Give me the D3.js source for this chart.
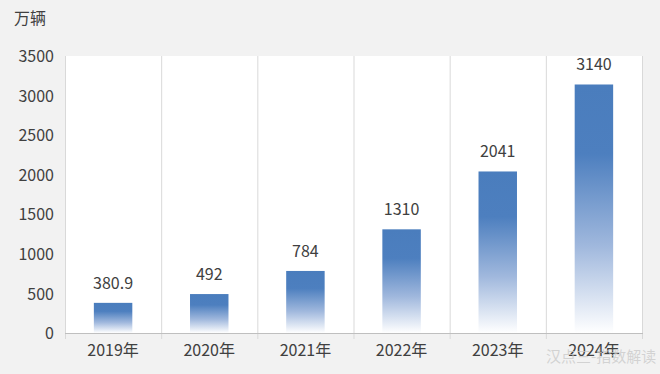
<!DOCTYPE html>
<html><head><meta charset="utf-8">
<script src="https://cdn.jsdelivr.net/npm/d3@7"></script>
<style>
html,body{margin:0;padding:0;background:#f2f2f2;}
svg{display:block;}
text{font-family:"Microsoft YaHei","Noto Sans CJK SC",sans-serif;fill:#404040;}
</style></head>
<body><svg id="c" width="660" height="374"></svg>
<script>
const categories = ["2019年","2020年","2021年","2022年","2023年","2024年"];
const values = [380.9, 492, 784, 1310, 2041, 3140];
const valueLabels = ["380.9","492","784","1310","2041","3140"];
const yTicks = [0,500,1000,1500,2000,2500,3000,3500];
const unitLabel = "万辆";
const watermark = "汉点三-指数解读";

const svg = d3.select("#c");
const W=660,H=374;
const m={left:65,right:18,top:56,bottom:41};
const x0=m.left, x1=W-m.right, y0=H-m.bottom, y1=m.top;

svg.append("rect").attr("width",W).attr("height",H).attr("fill","#f2f2f2");
svg.append("rect").attr("x",x0).attr("y",y1).attr("width",x1-x0).attr("height",y0-y1).attr("fill","#ffffff");

const x=d3.scaleBand().domain(categories).range([x0,x1]).paddingInner(0).paddingOuter(0);
const y=d3.scaleLinear().domain([0,3500]).range([y0,y1]);

const defs=svg.append("defs");
const g=defs.append("linearGradient").attr("id","bg").attr("x1",0).attr("y1",0).attr("x2",0).attr("y2",1);
g.append("stop").attr("offset","0%").attr("stop-color","#4a7dbd");
g.append("stop").attr("offset","28%").attr("stop-color","#4d7fbf");
g.append("stop").attr("offset","65%").attr("stop-color","#a0b8dd");
g.append("stop").attr("offset","100%").attr("stop-color","#ffffff");

// vertical gridlines at category boundaries
const bounds=categories.map(c=>x(c)).concat([x1]);
svg.append("g").selectAll("line").data(bounds).join("line")
  .attr("x1",d=>d+0.5).attr("x2",d=>d+0.5).attr("y1",y1).attr("y2",y0+6)
  .attr("stroke","#d9d9d9").attr("stroke-width",1);

// bottom axis line
svg.append("line").attr("x1",x0).attr("x2",x1+1).attr("y1",y0+0.5).attr("y2",y0+0.5)
  .attr("stroke","#bfbfbf").attr("stroke-width",1);

// bars
const bw=x.bandwidth()*0.4;
svg.append("g").selectAll("rect").data(values).join("rect")
  .attr("x",(d,i)=>x(categories[i])+x.bandwidth()/2-bw/2)
  .attr("y",d=>y(d)).attr("width",bw).attr("height",d=>y0-y(d))
  .attr("fill","url(#bg)");

// value labels
svg.append("g").selectAll("text").data(values).join("text")
  .attr("x",(d,i)=>x(categories[i])+x.bandwidth()/2)
  .attr("y",d=>y(d)-14)
  .attr("text-anchor","middle").attr("font-size",16)
  .text((d,i)=>valueLabels[i]);

// y axis labels
const ya=d3.axisLeft(y).tickValues(yTicks).tickFormat(d3.format("d")).tickSize(0).tickPadding(11);
const yg=svg.append("g").attr("transform",`translate(${x0},0)`).call(ya);
yg.select(".domain").remove();
yg.selectAll("text").attr("font-size",16).attr("fill","#404040")
  .attr("font-family","'Microsoft YaHei','Noto Sans CJK SC',sans-serif").attr("dy","0.35em");

// x axis labels
const xa=d3.axisBottom(x).tickSize(0).tickPadding(12);
const xg=svg.append("g").attr("transform",`translate(0,${y0})`).call(xa);
xg.select(".domain").remove();
xg.selectAll("text").attr("font-size",16).attr("fill","#404040")
  .attr("font-family","'Microsoft YaHei','Noto Sans CJK SC',sans-serif");

// unit label
svg.append("text").attr("x",14).attr("y",24).attr("font-size",16).text(unitLabel);

// watermark
svg.append("text").attr("x",546).attr("y",362).attr("font-size",15)
  .style("fill","rgba(200,200,200,0.75)").text(watermark);
</script></body></html>
